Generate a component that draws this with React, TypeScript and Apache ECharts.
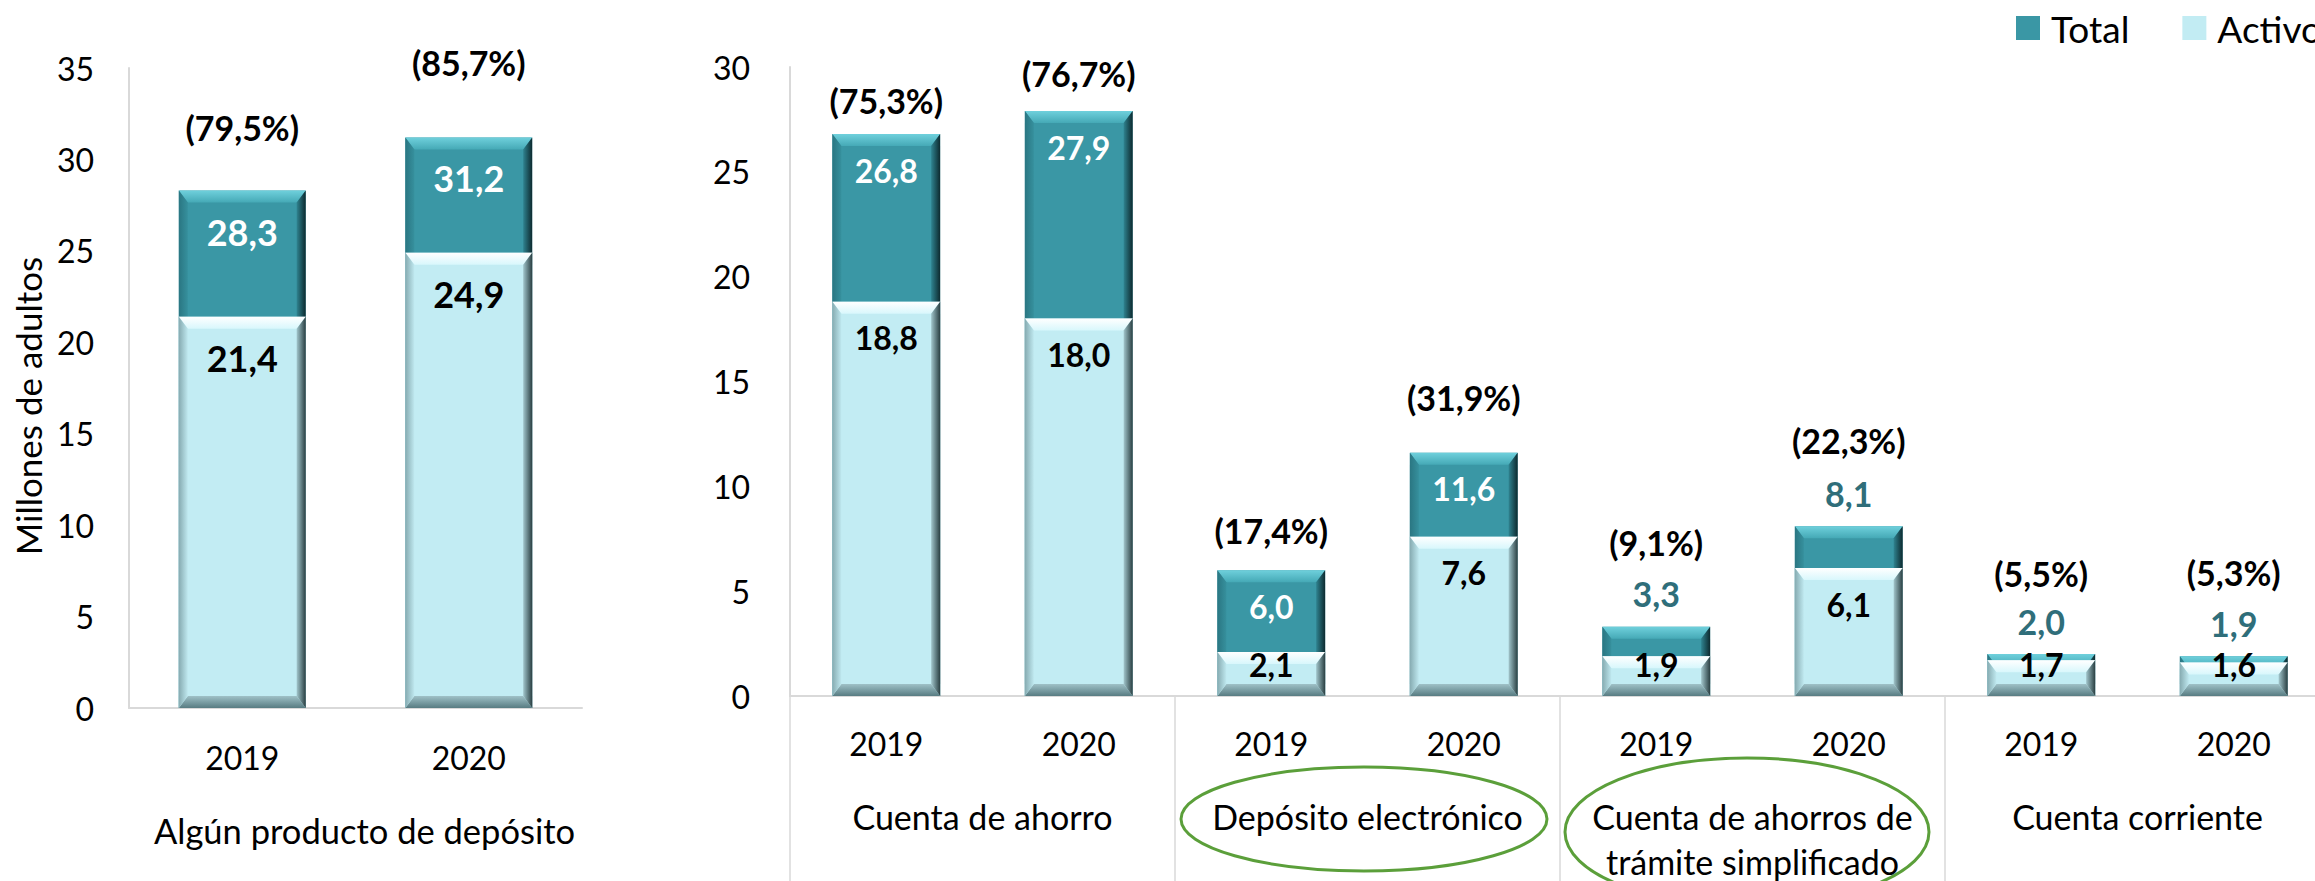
import React, { useEffect, useRef } from 'react';
import * as echarts from 'echarts';

// ---------- data ----------
const leftYears = ['2019', '2020'];
const leftGroups = ['Algún producto de depósito'];
const leftTotal = [28.3, 31.2];
const leftActivos = [21.4, 24.9];
const leftPct = [79.5, 85.7];

const rightGroups = [
  'Cuenta de ahorro',
  'Depósito electrónico',
  'Cuenta de ahorros de\ntrámite simplificado',
  'Cuenta corriente',
];
const rightYears = ['2019', '2020', '2019', '2020', '2019', '2020', '2019', '2020'];
const rightTotal = [26.8, 27.9, 6.0, 11.6, 3.3, 8.1, 2.0, 1.9];
const rightActivos = [18.8, 18.0, 2.1, 7.6, 1.9, 6.1, 1.7, 1.6];
const rightPct = [75.3, 76.7, 17.4, 31.9, 9.1, 22.3, 5.5, 5.3];

const yAxisTitle = 'Millones de adultos';
const seriesNames = ['Total', 'Activos'];

// ---------- label placement tweaks (style only) ----------
const leftPctLift = [63, 75];
const rightPctLift = [34, 38, 40, 55, 84, 86, 81, 84];

const FONT = 'Lato, "Open Sans", "Noto Sans", sans-serif';
const fmt = (v: number) => v.toFixed(1).replace('.', ',');

const darkPal = {
  face: '#3a97a5',
  top: ['#6fd0dc', '#45a9b6'],
  bottom: ['#2f7f8b', '#1d545c'],
  left: ['#2a7682', '#36909d'],
  right: ['#2f8390', '#0d2a2f'],
};
const lightPal = {
  face: '#c2ecf3',
  top: ['#ffffff', '#d8f7fc'],
  bottom: ['#9fc1c7', '#587c82'],
  left: ['#86abb1', '#bfe8ef'],
  right: ['#a2c6cc', '#2a3f42'],
};

const lg = (x2: number, y2: number, c0: string, c1: string) => ({
  type: 'linear',
  x: 0,
  y: 0,
  x2,
  y2,
  colorStops: [
    { offset: 0, color: c0 },
    { offset: 1, color: c1 },
  ],
});

function bevel(x: number, y: number, w: number, h: number, p: any) {
  const by = Math.max(0, Math.min(12, h / 2));
  const bx = Math.max(0, Math.min(9, w / 2));
  return [
    { type: 'rect', shape: { x, y, width: w, height: h }, style: { fill: p.face } },
    {
      type: 'polygon',
      shape: { points: [[x, y], [x + w, y], [x + w - bx, y + by], [x + bx, y + by]] },
      style: { fill: lg(0, 1, p.top[0], p.top[1]) },
    },
    {
      type: 'polygon',
      shape: { points: [[x + bx, y + h - by], [x + w - bx, y + h - by], [x + w, y + h], [x, y + h]] },
      style: { fill: lg(0, 1, p.bottom[0], p.bottom[1]) },
    },
    {
      type: 'polygon',
      shape: { points: [[x, y], [x + bx, y + by], [x + bx, y + h - by], [x, y + h]] },
      style: { fill: lg(1, 0, p.left[0], p.left[1]) },
    },
    {
      type: 'polygon',
      shape: { points: [[x + w - bx, y + by], [x + w, y], [x + w, y + h], [x + w - bx, y + h - by]] },
      style: { fill: lg(1, 0, p.right[0], p.right[1]) },
    },
  ];
}

function txt(x: number, y: number, text: string, size: number, fill: string) {
  return {
    type: 'text',
    x,
    y,
    style: {
      text,
      fill,
      fontSize: size,
      fontWeight: 'bold',
      fontFamily: FONT,
      align: 'center',
      verticalAlign: 'middle',
    },
  };
}

function makeSeries(
  xAxisIndex: number,
  yAxisIndex: number,
  totals: number[],
  activos: number[],
  pcts: number[],
  pctLift: number[],
  valOff: number,
  valFont: number,
) {
  const totalSeries = {
    type: 'custom',
    name: seriesNames[0],
    xAxisIndex,
    yAxisIndex,
    silent: true,
    itemStyle: { color: darkPal.face },
    encode: { x: 0, y: 1 },
    data: totals.map((t, i) => [i, t, activos[i], pcts[i]]),
    renderItem: (params: any, api: any) => {
      const idx = api.value(0);
      const t = api.value(1);
      const a = api.value(2);
      const p = api.value(3);
      const base = api.coord([idx, 0]);
      const top = api.coord([idx, t]);
      const band = api.size([1, 0])[0];
      const w = band * 0.56;
      const x = base[0] - w / 2;
      const h = base[1] - top[1];
      const children: any[] = bevel(x, top[1], w, h, darkPal);
      const lift = pctLift[params.dataIndex];
      if (t - a >= 2.5) {
        children.push(txt(base[0], top[1] + valOff, fmt(t), valFont, '#ffffff'));
      } else {
        children.push(txt(base[0], top[1] - 33, fmt(t), 34, '#2f6e7a'));
      }
      children.push(txt(base[0], top[1] - lift, '(' + fmt(p) + '%)', 34, '#000000'));
      return { type: 'group', children };
    },
  };
  const actSeries = {
    type: 'custom',
    name: seriesNames[1],
    xAxisIndex,
    yAxisIndex,
    silent: true,
    itemStyle: { color: lightPal.face },
    encode: { x: 0, y: 1 },
    data: activos.map((a, i) => [i, a]),
    renderItem: (params: any, api: any) => {
      const idx = api.value(0);
      const a = api.value(1);
      const base = api.coord([idx, 0]);
      const top = api.coord([idx, a]);
      const band = api.size([1, 0])[0];
      const w = band * 0.56;
      const x = base[0] - w / 2;
      const h = base[1] - top[1];
      const children: any[] = bevel(x, top[1], w, h, lightPal);
      const cy = Math.min(top[1] + valOff, base[1] - 32);
      children.push(txt(base[0], cy, fmt(a), valFont, '#000000'));
      return { type: 'group', children };
    },
  };
  return [totalSeries, actSeries];
}

const axisText = { fontFamily: FONT, fontSize: 32, color: '#000000' };

export default function App() {
  const ref = useRef<HTMLDivElement>(null);
  useEffect(() => {
    if (!ref.current) return;
    const chart = echarts.init(ref.current, undefined, { renderer: 'svg' });
    const option: any = {
      animation: false,
      backgroundColor: '#ffffff',
      legend: {
        left: 2011,
        top: 1,
        width: 700,
        itemWidth: 24,
        itemHeight: 24,
        itemGap: 53,
        icon: 'rect',
        selectedMode: false,
        data: seriesNames,
        textStyle: { fontFamily: FONT, fontSize: 37, color: '#000000', lineHeight: 44, padding: [0, 0, 0, 6] },
      },
      grid: [
        { left: 129, top: 68, width: 453, height: 640, containLabel: false, outerBoundsMode: 'none' },
        { left: 790, top: 67, width: 1540, height: 629, containLabel: false, outerBoundsMode: 'none' },
      ],
      xAxis: [
        {
          type: 'category',
          gridIndex: 0,
          position: 'bottom',
          data: leftYears,
          axisLine: { lineStyle: { color: '#d9d9d9', width: 2 } },
          axisTick: { show: false },
          axisLabel: { ...axisText, margin: 29, lineHeight: 40, interval: 0 },
        },
        {
          type: 'category',
          gridIndex: 0,
          position: 'bottom',
          data: leftGroups,
          axisLine: { show: false },
          axisTick: { show: false },
          axisLabel: { ...axisText, fontSize: 34.5, margin: 101, lineHeight: 42, interval: 0, padding: [0, 0, 0, 18] },
        },
        {
          type: 'category',
          gridIndex: 1,
          position: 'bottom',
          data: rightYears.map((y, i) => y + '#' + i),
          axisLine: { lineStyle: { color: '#d9d9d9', width: 2 } },
          axisTick: { show: false },
          axisLabel: {
            ...axisText,
            margin: 27,
            lineHeight: 40,
            interval: 0,
            formatter: (_v: string, i: number) => rightYears[i],
          },
        },
        {
          type: 'category',
          gridIndex: 1,
          position: 'bottom',
          data: rightGroups,
          axisLine: { show: false },
          axisTick: { show: true, interval: 0, length: 186, lineStyle: { color: '#d9d9d9', width: 1.5 } },
          axisLabel: { ...axisText, fontSize: 34, margin: 98, lineHeight: 45, interval: 0 },
        },
      ],
      yAxis: [
        {
          type: 'value',
          gridIndex: 0,
          min: 0,
          max: 35,
          interval: 5,
          axisLine: { show: true, lineStyle: { color: '#d9d9d9', width: 2 } },
          axisTick: { show: false },
          splitLine: { show: false },
          axisLabel: { ...axisText, margin: 35 },
        },
        {
          type: 'value',
          gridIndex: 1,
          min: 0,
          max: 30,
          interval: 5,
          axisLine: { show: true, lineStyle: { color: '#d9d9d9', width: 2 } },
          axisTick: { show: false },
          splitLine: { show: false },
          axisLabel: { ...axisText, margin: 40 },
        },
      ],
      graphic: [
        {
          type: 'text',
          x: 28,
          y: 406,
          rotation: Math.PI / 2,
          style: {
            text: yAxisTitle,
            fill: '#000000',
            fontFamily: FONT,
            fontSize: 35,
            align: 'center',
            verticalAlign: 'middle',
          },
        },
        {
          type: 'ellipse',
          shape: { cx: 1364, cy: 819, rx: 183, ry: 52 },
          style: { fill: 'none', stroke: '#5b9f3a', lineWidth: 3 },
        },
        {
          type: 'ellipse',
          shape: { cx: 1747, cy: 832, rx: 182, ry: 74 },
          style: { fill: 'none', stroke: '#5b9f3a', lineWidth: 3 },
        },
      ],
      series: [
        ...makeSeries(0, 0, leftTotal, leftActivos, leftPct, leftPctLift, 41, 36),
        ...makeSeries(2, 1, rightTotal, rightActivos, rightPct, rightPctLift, 36, 32),
      ],
    };
    chart.setOption(option);
    return () => chart.dispose();
  }, []);
  return (
    <div
      ref={ref}
      style={{ position: 'absolute', left: 0, top: 0, width: 2315, height: 881, background: '#fff' }}
    />
  );
}
